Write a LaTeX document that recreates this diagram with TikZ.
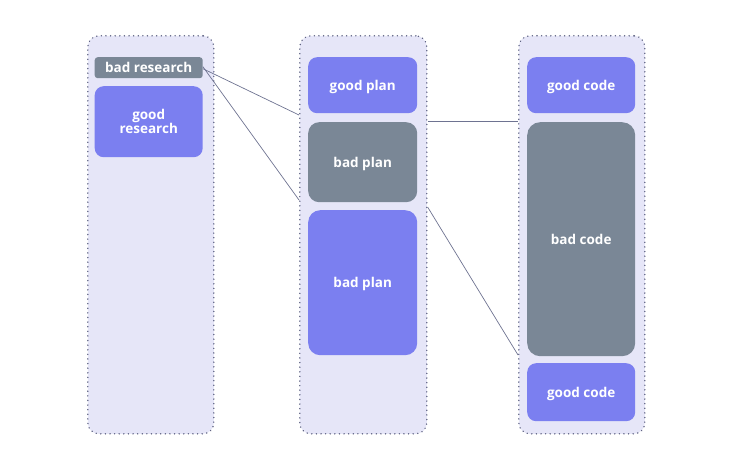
\documentclass[tikz,border=0pt]{standalone}
\usepackage{fontspec}
\setmainfont{Open Sans}
\definecolor{contfill}{HTML}{E6E6F8}
\definecolor{contline}{HTML}{5F6383}
\definecolor{goodblue}{HTML}{7B7FF0}
\definecolor{badgray}{HTML}{7A8796}
\definecolor{linkcol}{HTML}{6E7391}
\begin{document}
\begin{tikzpicture}[x=1pt,y=-1pt,
  container/.style={draw=contline, fill=contfill, line width=1.6pt, line cap=round,
    dash pattern=on 0.01pt off 4.6pt, rounded corners=11pt, inner sep=0pt, anchor=north west},
  blk/.style={inner sep=0pt, anchor=north west, text=white, text depth=0pt, font=\bfseries\fontsize{13.5}{14}\selectfont, align=center, rounded corners=9pt},
  good/.style={blk, fill=goodblue},
  bad/.style={blk, fill=badgray},
  link/.style={draw=linkcol, line width=0.7pt}]
\useasboundingbox (0,0) rectangle (730,468);
% containers
\node[container, minimum width=126pt, minimum height=398pt] (c1) at (87,35) {};
\node[container, minimum width=127pt, minimum height=398pt] (c2) at (299,35) {};
\node[container, minimum width=126pt, minimum height=398pt] (c3) at (518,35) {};
% column 1
\node[bad, rounded corners=3pt, minimum width=108pt, minimum height=21pt] (br) at (94.5,57) {bad research};
\node[good, minimum width=108pt, minimum height=71pt] (gr) at (94.5,86) {good\\research};
% column 2
\node[good, minimum width=109pt, minimum height=56pt] (gp) at (308,57) {good plan};
\node[bad, minimum width=109pt, minimum height=80pt, rounded corners=11pt] (bp) at (308,122) {bad plan};
\node[good, minimum width=109pt, minimum height=145pt, rounded corners=12pt] (bp2) at (308,210) {bad plan};
% column 3
\node[good, minimum width=108pt, minimum height=56pt] (gc) at (527,57) {good code};
\node[bad, minimum width=108pt, minimum height=234pt, rounded corners=13pt] (bc) at (527,122) {bad code};
\node[good, minimum width=108pt, minimum height=58pt] (gc2) at (527,363) {good code};
% link anchors
\coordinate (a1) at (c2.west |- 0,115);
\coordinate (a2) at (c2.west |- 0,200);
\coordinate (b1) at (c2.east |- 0,121);
\coordinate (b2) at (c2.east |- 0,207);
\coordinate (d1) at (c3.west |- 0,121);
\coordinate (d2) at (c3.west |- 0,355);
\coordinate (s1) at ([yshift=-1pt]br.east);
\coordinate (s2) at ([yshift=1pt]br.east);
\draw[link] (s1) -- (a1);
\draw[link] (s2) -- (a2);
\draw[link] (b1) -- (d1);
\draw[link] (b2) -- (d2);
\end{tikzpicture}
\end{document}
